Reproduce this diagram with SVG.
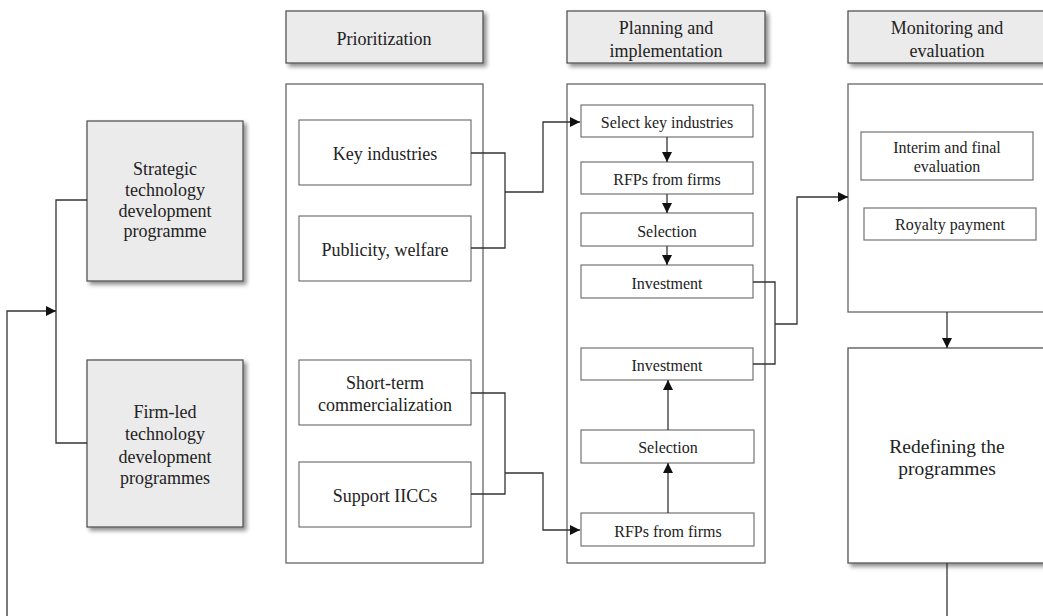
<svg xmlns="http://www.w3.org/2000/svg" width="1043" height="616" viewBox="0 0 1043 616" font-family="'Liberation Serif', 'DejaVu Serif', serif">
<defs>
<filter id="sh" x="-10%" y="-10%" width="130%" height="130%">
<feDropShadow dx="3" dy="3" stdDeviation="2" flood-color="#000" flood-opacity="0.45"/>
</filter>
<marker id="ah" viewBox="0 0 10 10" refX="10" refY="5" markerWidth="10" markerHeight="10" markerUnits="userSpaceOnUse" orient="auto">
<path d="M0,0 L10,5 L0,10 z" fill="#111"/>
</marker>
</defs>
<style>
.g{fill:#ebebeb;stroke:#555;stroke-width:1.3;filter:url(#sh)}
.c{fill:#fff;stroke:#666;stroke-width:1.3}
.b{fill:#fff;stroke:#666;stroke-width:1.1}
.r{fill:#fff;stroke:#555;stroke-width:1.3;filter:url(#sh)}
text{font-family:'Liberation Serif','DejaVu Serif',serif;fill:#222;text-anchor:middle}
.t17{font-size:18px}
.t15{font-size:16px}
.t19{font-size:19.5px}
.ln{fill:none;stroke:#333;stroke-width:1.3}
</style>
<g id="strategic"><rect class="g" x="87" y="121" width="156" height="160"/>
<text class="t17" x="165" y="175">Strategic</text><text class="t17" x="165" y="196">technology</text><text class="t17" x="165" y="217">development</text><text class="t17" x="165" y="237">programme</text></g>
<g id="firmled"><rect class="g" x="87" y="360" width="156" height="167"/>
<text class="t17" x="165" y="418">Firm-led</text><text class="t17" x="165" y="440">technology</text><text class="t17" x="165" y="463">development</text><text class="t17" x="165" y="484">programmes</text></g>
<g id="h-prior"><rect class="g" x="286" y="11" width="197" height="52"/><text class="t17" x="384" y="45">Prioritization</text></g>
<g id="h-plan"><rect class="g" x="567" y="11" width="198" height="52"/><text class="t17" x="666" y="34">Planning and</text><text class="t17" x="666" y="57">implementation</text></g>
<g id="h-mon"><rect class="g" x="848" y="11" width="198" height="52"/><text class="t17" x="947" y="34">Monitoring and</text><text class="t17" x="947" y="57">evaluation</text></g>
<g id="c-prior"><rect class="c" x="286" y="84" width="197" height="479"/></g>
<g id="c-plan"><rect class="c" x="567" y="84" width="198" height="479"/></g>
<g id="c-mon"><rect class="c" x="848" y="84" width="198" height="228"/></g>
<g id="key"><rect class="b" x="299" y="120" width="172" height="65"/><text class="t17" x="385" y="160">Key industries</text></g>
<g id="pub"><rect class="b" x="299" y="216" width="172" height="65"/><text class="t17" x="385" y="256">Publicity, welfare</text></g>
<g id="short"><rect class="b" x="299" y="360" width="172" height="65"/><text class="t17" x="385" y="389">Short-term</text><text class="t17" x="385" y="411">commercialization</text></g>
<g id="iiccs"><rect class="b" x="299" y="462" width="172" height="65"/><text class="t17" x="385" y="502">Support IICCs</text></g>
<g id="p1"><rect class="b" x="581" y="105" width="172" height="32"/><text class="t15" x="667" y="128">Select key industries</text></g>
<g id="p2"><rect class="b" x="581" y="162" width="172" height="32"/><text class="t15" x="667" y="185">RFPs from firms</text></g>
<g id="p3"><rect class="b" x="581" y="213" width="172" height="33"/><text class="t15" x="667" y="237">Selection</text></g>
<g id="p4"><rect class="b" x="581" y="265" width="172" height="33"/><text class="t15" x="667" y="289">Investment</text></g>
<g id="q4"><rect class="b" x="581" y="348" width="172" height="32"/><text class="t15" x="667" y="371">Investment</text></g>
<g id="q3"><rect class="b" x="581" y="430" width="173" height="33"/><text class="t15" x="668" y="453">Selection</text></g>
<g id="q2"><rect class="b" x="581" y="513" width="173" height="33"/><text class="t15" x="668" y="537">RFPs from firms</text></g>
<g id="interim"><rect class="b" x="861" y="132" width="172" height="48"/><text class="t15" x="947" y="153">Interim and final</text><text class="t15" x="947" y="172">evaluation</text></g>
<g id="royalty"><rect class="b" x="864" y="208" width="172" height="32"/><text class="t15" x="950" y="230">Royalty payment</text></g>
<g id="redef"><rect class="r" x="848" y="348" width="198" height="215"/><text class="t19" x="947" y="453">Redefining the</text><text class="t19" x="947" y="475">programmes</text></g>
<g id="connectors">
<path class="ln" d="M87,200 H56 V443 H87"/>
<path class="ln" d="M7,616 V311 H56" marker-end="url(#ah)"/>
<path class="ln" d="M471,153 H505 V248 H471 M505,192 H543 V122 H580" marker-end="url(#ah)"/>
<path class="ln" d="M471,393 H505 V494 H471 M505,473 H543 V530 H580" marker-end="url(#ah)"/>
<path class="ln" d="M667,137 V162" marker-end="url(#ah)"/>
<path class="ln" d="M667,194 V213" marker-end="url(#ah)"/>
<path class="ln" d="M667,246 V265" marker-end="url(#ah)"/>
<path class="ln" d="M668,430 V380" marker-end="url(#ah)"/>
<path class="ln" d="M668,513 V463" marker-end="url(#ah)"/>
<path class="ln" d="M753,282 H775 V364 H753 M775,324 H797 V197 H848" marker-end="url(#ah)"/>
<path class="ln" d="M947,312 V348" marker-end="url(#ah)"/>
<path class="ln" d="M947,563 V616"/>
</g>
</svg>
